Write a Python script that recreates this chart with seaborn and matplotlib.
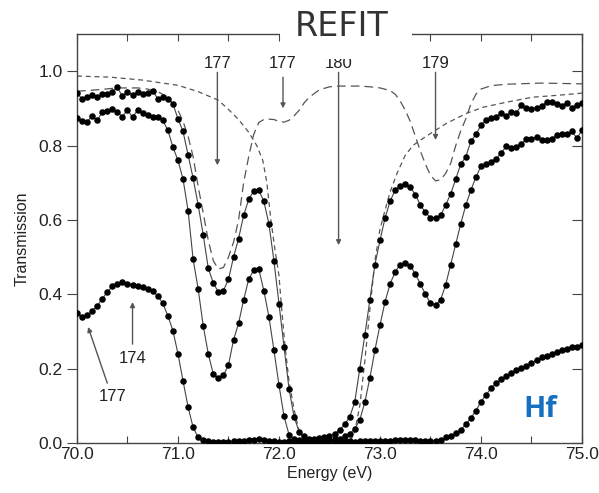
import numpy as np
import pandas as pd
import matplotlib
matplotlib.use("Agg")
import matplotlib.pyplot as plt
from matplotlib.patches import Rectangle
import seaborn as sns

# ---------------- data ----------------
energy = np.round(np.linspace(70.0, 75.0, 101), 2)

sample_a = [
    0.942, 0.925, 0.930, 0.935, 0.930, 0.938, 0.940, 0.945, 0.957, 0.932,
    0.945, 0.935, 0.945, 0.940, 0.942, 0.948, 0.925, 0.930, 0.925, 0.912,
    0.872, 0.838, 0.775, 0.712, 0.640, 0.560, 0.470, 0.430, 0.406, 0.410,
    0.440, 0.500, 0.550, 0.612, 0.655, 0.678, 0.680, 0.650, 0.590, 0.490,
    0.375, 0.258, 0.145, 0.070, 0.030, 0.018, 0.012, 0.012, 0.013, 0.015,
    0.018, 0.025, 0.035, 0.050, 0.070, 0.110, 0.200, 0.290, 0.385, 0.480,
    0.545, 0.605, 0.650, 0.680, 0.692, 0.696, 0.688, 0.668, 0.640, 0.620,
    0.606, 0.605, 0.612, 0.640, 0.670, 0.710, 0.750, 0.770, 0.812, 0.830,
    0.855, 0.868, 0.875, 0.878, 0.888, 0.880, 0.890, 0.888, 0.908, 0.900,
    0.898, 0.902, 0.906, 0.917, 0.916, 0.912, 0.906, 0.915, 0.902, 0.910,
    0.914,
]

sample_b = [
    0.874, 0.866, 0.863, 0.880, 0.868, 0.890, 0.893, 0.897, 0.890, 0.878,
    0.896, 0.876, 0.895, 0.887, 0.882, 0.876, 0.876, 0.868, 0.841, 0.796,
    0.760, 0.710, 0.625, 0.494, 0.414, 0.315, 0.240, 0.185, 0.175, 0.182,
    0.210, 0.277, 0.322, 0.385, 0.440, 0.465, 0.468, 0.410, 0.340, 0.250,
    0.156, 0.072, 0.022, 0.010, 0.007, 0.006, 0.006, 0.006, 0.007, 0.007,
    0.008, 0.010, 0.012, 0.018, 0.025, 0.038, 0.062, 0.110, 0.175, 0.250,
    0.317, 0.380, 0.428, 0.460, 0.480, 0.484, 0.476, 0.455, 0.428, 0.400,
    0.376, 0.371, 0.385, 0.425, 0.480, 0.535, 0.590, 0.640, 0.680, 0.715,
    0.745, 0.750, 0.757, 0.765, 0.780, 0.798, 0.793, 0.797, 0.805, 0.817,
    0.818, 0.823, 0.815, 0.815, 0.818, 0.828, 0.830, 0.830, 0.838, 0.820,
    0.841,
]

sample_c = [
    0.349, 0.340, 0.344, 0.355, 0.368, 0.388, 0.406, 0.421, 0.428, 0.432,
    0.429, 0.426, 0.423, 0.419, 0.415, 0.408, 0.395, 0.376, 0.342, 0.302,
    0.240, 0.167, 0.097, 0.042, 0.015, 0.007, 0.005, 0.004, 0.004, 0.004,
    0.004, 0.005, 0.005, 0.006, 0.007, 0.009, 0.010, 0.008, 0.006, 0.005,
    0.004, 0.004, 0.005, 0.004, 0.004, 0.005, 0.005, 0.004, 0.004, 0.005,
    0.005, 0.004, 0.004, 0.005, 0.005, 0.004, 0.005, 0.005, 0.005, 0.005,
    0.005, 0.006, 0.006, 0.007, 0.008, 0.008, 0.008, 0.007, 0.006, 0.005,
    0.005, 0.006, 0.008, 0.015, 0.019, 0.026, 0.036, 0.050, 0.067, 0.087,
    0.111, 0.130, 0.147, 0.161, 0.171, 0.180, 0.188, 0.196, 0.202, 0.208,
    0.214, 0.224, 0.230, 0.233, 0.240, 0.245, 0.250, 0.253, 0.257, 0.258,
    0.264,
]

# long-dashed fit component (177 / 179 resonances)
comp_long_energy = [70.0, 70.2, 70.4, 70.6, 70.7, 70.8, 70.9, 71.0, 71.05, 71.1,
                    71.15, 71.2, 71.25, 71.3, 71.35, 71.4, 71.45, 71.5, 71.55, 71.6,
                    71.65, 71.7, 71.75, 71.8, 71.85, 71.9, 71.95, 72.0, 72.05, 72.1,
                    72.15, 72.2, 72.25, 72.3, 72.4, 72.5, 72.6, 72.8, 72.9, 73.0,
                    73.1, 73.15, 73.2, 73.25, 73.3, 73.35, 73.4, 73.45, 73.5, 73.55,
                    73.6, 73.65, 73.7, 73.75, 73.8, 73.85, 73.9, 73.95, 74.0, 74.1,
                    74.25, 74.6, 75.0]
comp_long_trans = [0.946, 0.950, 0.955, 0.955, 0.952, 0.945, 0.930, 0.895, 0.865, 0.825,
                   0.770, 0.690, 0.618, 0.545, 0.490, 0.468, 0.472, 0.500, 0.540, 0.600,
                   0.700, 0.770, 0.830, 0.862, 0.870, 0.871, 0.870, 0.865, 0.863, 0.868,
                   0.880, 0.895, 0.915, 0.930, 0.950, 0.958, 0.960, 0.960, 0.958, 0.955,
                   0.948, 0.938, 0.920, 0.895, 0.865, 0.825, 0.785, 0.750, 0.720, 0.705,
                   0.708, 0.725, 0.752, 0.800, 0.840, 0.872, 0.912, 0.938, 0.952, 0.961,
                   0.965, 0.968, 0.966]

# short-dashed fit component (180 resonance)
comp_short_energy = [70.0, 70.33, 70.65, 71.0, 71.2, 71.4, 71.5, 71.6, 71.7, 71.78,
                     71.84, 71.88, 71.92, 71.96, 72.0, 72.03, 72.06, 72.1, 72.15, 72.2,
                     72.25, 72.3, 72.7, 72.75, 72.8, 72.85, 72.9, 72.95, 73.0, 73.05,
                     73.1, 73.17, 73.25, 73.33, 73.43, 73.52, 73.66, 73.86, 74.02, 74.26,
                     74.51, 74.75, 75.0]
comp_short_trans = [0.987, 0.984, 0.976, 0.962, 0.945, 0.922, 0.897, 0.870, 0.836, 0.800,
                    0.760, 0.700, 0.600, 0.520, 0.450, 0.350, 0.260, 0.165, 0.090, 0.030,
                    0.008, 0.002, 0.002, 0.030, 0.100, 0.220, 0.360, 0.490, 0.575, 0.626,
                    0.675, 0.726, 0.774, 0.801, 0.820, 0.836, 0.860, 0.887, 0.903, 0.917,
                    0.930, 0.935, 0.941]

arrow_labels = ["177", "177", "180", "179", "174", "177"]

# ---------------- style ----------------
sns.set_style("ticks")
plt.rcParams["font.family"] = ["Liberation Sans", "DejaVu Sans"]

fig, ax = plt.subplots(figsize=(5.99, 4.93), dpi=100)
fig.subplots_adjust(left=0.1285, right=0.9716, bottom=0.1014, top=0.931)

df = pd.DataFrame({
    "Energy": np.concatenate([energy, energy, energy]),
    "T": np.concatenate([sample_a, sample_b, sample_c]),
    "series": ["a"] * 101 + ["b"] * 101 + ["c"] * 101,
})

line_col = "#555555"
sns.lineplot(x=comp_long_energy, y=comp_long_trans, ax=ax, color=line_col,
             lw=0.9, linestyle=(0, (7, 4)), sort=False)
sns.lineplot(x=comp_short_energy, y=comp_short_trans, ax=ax, color=line_col,
             lw=0.9, linestyle=(0, (4, 3)), sort=False)
sns.lineplot(data=df, x="Energy", y="T", units="series", estimator=None,
             ax=ax, color="#444444", lw=0.8)
sns.scatterplot(data=df, x="Energy", y="T", ax=ax, color="black", s=22,
                linewidth=0, zorder=4, legend=False)

ax.set_xlim(70, 75)
ax.set_ylim(0, 1.1)
ax.set_xticks([70, 71, 72, 73, 74, 75])
ax.set_xticklabels(["70.0", "71.0", "72.0", "73.0", "74.0", "75.0"])
ax.set_xticks([70.5, 71.5, 72.5, 73.5, 74.5], minor=True)
ax.set_yticks([0, 0.2, 0.4, 0.6, 0.8, 1.0])
ax.set_yticklabels(["0.0", "0.2", "0.4", "0.6", "0.8", "1.0"])
ax.tick_params(axis="x", which="both", direction="in", top=True, bottom=True,
               length=5, width=0.8, color="#444444", labelsize=12.5, pad=3,
               labelcolor="#222222")
ax.tick_params(axis="y", which="major", direction="out", left=True, right=False,
               length=7, width=0.8, color="#444444", labelsize=12.5,
               labelcolor="#222222")
sec = ax.secondary_yaxis("right")
sec.set_yticks([0, 0.2, 0.4, 0.6, 0.8, 1.0])
sec.tick_params(direction="in", length=7, width=0.8, color="#444444", labelright=False)
sec.spines["right"].set_color("#444444")
for s in ax.spines.values():
    s.set_color("#444444")
    s.set_linewidth(1.0)
    s.set_visible(True)

ax.set_xlabel("Energy (eV)", fontsize=11.5, color="#222222", labelpad=3)
ax.set_ylabel("Transmission", fontsize=11.5, color="#222222", labelpad=6)

# ---------------- annotations ----------------
arr = dict(arrowstyle="-|>", color="#555555", lw=1.0, mutation_scale=7,
           shrinkA=0, shrinkB=0)
top_y = 1.021
ax.annotate("", xy=(71.39, 0.747), xytext=(71.39, 0.997), arrowprops=arr)
ax.text(71.39, top_y, arrow_labels[0], ha="center", va="center", fontsize=12, color="#222222")
ax.annotate("", xy=(72.04, 0.900), xytext=(72.04, 0.984), arrowprops=arr)
ax.text(72.04, top_y, arrow_labels[1], ha="center", va="center", fontsize=12, color="#222222")
ax.annotate("", xy=(72.59, 0.532), xytext=(72.59, 0.997), arrowprops=arr)
ax.text(72.59, top_y, arrow_labels[2], ha="center", va="center", fontsize=12, color="#222222")
ax.annotate("", xy=(73.55, 0.815), xytext=(73.55, 0.997), arrowprops=arr)
ax.text(73.55, top_y, arrow_labels[3], ha="center", va="center", fontsize=12, color="#222222")
ax.annotate("", xy=(70.55, 0.379), xytext=(70.55, 0.266), arrowprops=arr)
ax.text(70.55, 0.228, arrow_labels[4], ha="center", va="center", fontsize=12, color="#222222")
ax.annotate("", xy=(70.11, 0.312), xytext=(70.30, 0.161), arrowprops=arr)
ax.text(70.35, 0.124, arrow_labels[5], ha="center", va="center", fontsize=12, color="#222222")

ax.text(74.59, 0.089, "Hf", ha="center", va="center", fontsize=21,
        fontweight="bold", color="#1670c2", family=["Open Sans", "DejaVu Sans"])

# title box interrupting the top spine
fig.add_artist(Rectangle((280 / 599, 1 - 38 / 493), 132 / 599, 38 / 493,
                         transform=fig.transFigure, fc="white", ec="none", zorder=5))
fig.add_artist(Rectangle((300 / 599, 1 - 59 / 493), 92 / 599, 59 / 493,
                         transform=fig.transFigure, fc="white", ec="none", zorder=5))
fig.text(342 / 599, 1 - 27 / 493, "REFIT", ha="center", va="center", fontsize=24,
         color="#333333", family="DejaVu Sans", zorder=6)

fig.savefig("out.png", dpi=100)
